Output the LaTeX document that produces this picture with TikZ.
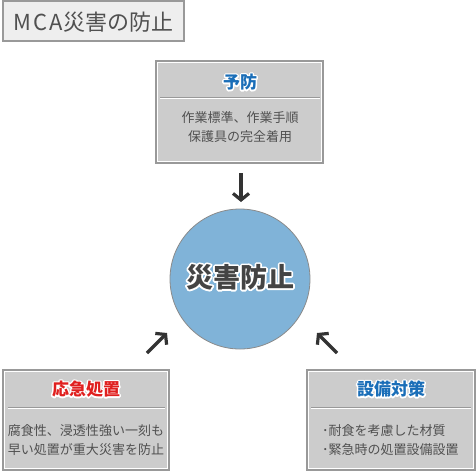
\documentclass[tikz,border=0pt]{standalone}
\usepackage{fontspec}
\newfontfamily\jp{Noto Sans CJK JP}
\usetikzlibrary{arrows.meta}
\definecolor{bord}{HTML}{999999}
\definecolor{boxfill}{HTML}{CCCCCC}
\definecolor{txt}{HTML}{505050}
\definecolor{tblue}{HTML}{1A6EB8}
\definecolor{tred}{HTML}{E0201F}
\definecolor{circfill}{HTML}{80B3D8}
\definecolor{circdraw}{HTML}{8A8A8A}
\definecolor{arrowc}{HTML}{333333}
\definecolor{titlefill}{HTML}{EEEEEE}
\definecolor{bigtxt}{HTML}{444444}
% white stroked copy under the coloured text
\newcommand\halonode[6]{% name, pos, font, color, text, stroke width
  \node[text=white,font=#3,inner sep=0pt] at (#2) {\special{pdf:code 2 Tr #6 w 1 j 1 1 1 RG}#5\special{pdf:code 0 Tr}};
  \node[text=#4,font=#3,inner sep=0pt] (#1) at (#2) {#5};
}
\begin{document}
\begin{tikzpicture}[x=1pt,y=-1pt,
  panel/.style={draw=bord, line width=2pt, fill=boxfill, inner sep=0pt, rectangle,
    path picture={\draw[white,line width=1pt]
      ([shift={(1.5pt,-1.5pt)}]path picture bounding box.north west) rectangle
      ([shift={(-1.5pt,1.5pt)}]path picture bounding box.south east);}},
  body/.style={text=txt, font=\jp\fontsize{13}{19}\selectfont, inner sep=0pt},
  sepg/.style={draw=bord, line width=1pt},
  sepw/.style={draw=white, line width=1pt},
  arr/.style={draw=arrowc, line width=3.2pt, -{Straight Barb[length=6.5pt,width=16pt]}}
]
\useasboundingbox (0,0) rectangle (476,472);
% title
\node[draw=bord, line width=1.5pt, fill=titlefill, minimum width=181pt, minimum height=40pt, inner sep=0pt] (title) at (93.5,21) {};
\node[text=txt, font=\jp\fontsize{22}{24}\selectfont, inner sep=0pt] (titletext) at (93.5,22) {{\addfontfeature{LetterSpace=9}MCA}災害の防止};
% panels
\node[panel, minimum width=167pt, minimum height=102pt] (top) at (239.5,112) {};
\node[panel, minimum width=166pt, minimum height=100pt] (bl) at (86,420) {};
\node[panel, minimum width=168pt, minimum height=100pt] (br) at (391,420) {};
% separators
\draw[sepg] (160,97.5) -- (320,97.5);
\draw[sepw] (160,98.5) -- (320,98.5);
\draw[sepg] (8,407.5) -- (165,407.5);
\draw[sepw] (8,408.5) -- (165,408.5);
\draw[sepg] (311,407.5) -- (471,407.5);
\draw[sepw] (311,408.5) -- (471,408.5);
% headings
\halonode{toph}{240,82}{\jp\bfseries\fontsize{17}{19}\selectfont}{tblue}{予防}{3}
\halonode{blh}{86,389}{\jp\bfseries\fontsize{17}{19}\selectfont}{tred}{応急処置}{3}
\halonode{brh}{391,389}{\jp\bfseries\fontsize{17}{19}\selectfont}{tblue}{設備対策}{3}
% bodies
\node[body, align=center] (topb) at (240,127.5) {作業標準、作業手順\\保護具の完全着用};
\node[body, align=center] (blb) at (86,440.5) {腐食性、浸透性強い一刻も\\早い処置が重大災害を防止};
\node[body, align=left, anchor=west] (brb) at (322,440.5) {･耐食を考慮した材質\\･緊急時の処置設備設置};
% circle
\node[circle, draw=circdraw, fill=circfill, line width=0.8pt, minimum size=140pt, inner sep=0pt] (circ) at (240,279) {};
\halonode{circt}{240,277}{\jp\bfseries\fontsize{27}{29}\selectfont}{bigtxt}{災害防止}{3.5}
% arrows
\coordinate (d1) at (241,173);
\coordinate (d2) at (241,202);
\coordinate (l1) at (147,353);
\coordinate (l2) at (167,333);
\coordinate (r1) at (337,353);
\coordinate (r2) at (317,333);
\draw[arr] (d1) -- (d2);
\draw[arr] (l1) -- (l2);
\draw[arr] (r1) -- (r2);
\end{tikzpicture}
\end{document}
